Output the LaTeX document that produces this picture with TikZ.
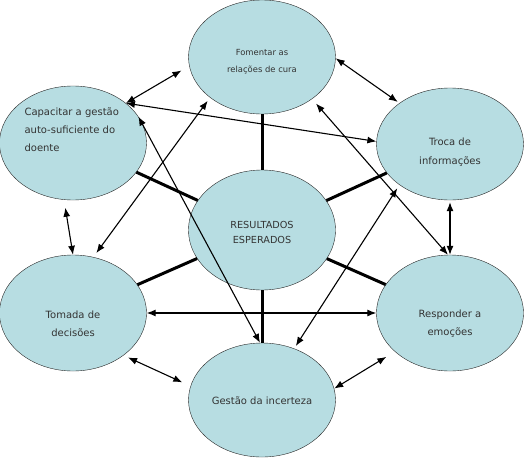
\documentclass[tikz,border=0pt]{standalone}
\usepackage{fontspec}
\setmainfont{DejaVu Sans}
\usetikzlibrary{shapes.geometric}
\usetikzlibrary{arrows.meta}

\definecolor{bubblefill}{RGB}{183,221,226}

\begin{document}
\begin{tikzpicture} [
    x=1pt, y=-1pt,
    bubble/.style = { ellipse, draw=black!85, thin, fill=bubblefill,
                      inner sep=0pt, minimum width=147pt, minimum height=114pt },
    txt/.style    = { text=black!80, align=center,
                      font=\fontsize{10}{18}\selectfont },
    spoke/.style  = { draw, line width=3pt },
    link/.style   = { draw, line width=1.1pt,
                      {Latex[length=9pt,width=7pt]}-{Latex[length=9pt,width=7pt]} },
  ]
  \useasboundingbox (0,0) rectangle (526,460);

  % outer ring and centre
  \node [bubble] (fom) at (262,57)  {};
  \node [bubble] (cap) at (73,143)  {};
  \node [bubble, minimum height=112pt] (tro) at (450,144) {};
  \node [bubble, minimum height=120pt] (res) at (262,230) {};
  \node [bubble, minimum height=116pt] (tom) at (73,313)  {};
  \node [bubble, minimum height=116pt] (rsp) at (450,313) {};
  \node [bubble] (ges) at (262,400) {};

  % texts
  \node [txt, font=\fontsize{8.4}{17}\selectfont] (fomtxt)
        at ([yshift=-5pt]fom.center) {Fomentar as\\relações de cura};
  \node [txt, align=left, anchor=west] (captxt) at (21,130)
        {Capacitar a gestão\\auto-suficiente do\\doente};
  \node [txt, font=\fontsize{10}{19}\selectfont] (trotxt)
        at ([yshift=-8pt]tro.center) {Troca de\\informações};
  \node [txt, font=\fontsize{9.7}{15}\selectfont] (restxt)
        at ([yshift=-2pt]res.center) {RESULTADOS\\ESPERADOS};
  \node [txt] (tomtxt) at ([yshift=-11pt]tom.center) {Tomada de\\decisões};
  \node [txt] (rsptxt) at ([yshift=-11pt]rsp.center) {Responder a\\emoções};
  \node [txt] (gestxt) at ([yshift=-1pt]ges.center) {Gestão da incerteza};

  % thick spokes from the centre
  \begin{scope} [every path/.style=spoke]
    \path (res) -- (fom);
    \path (res) -- (cap);
    \path (res) -- (tro);
    \path (res) -- (tom);
    \path (res) -- (rsp);
    \path (res) -- (ges);
  \end{scope}

  % double arrows between the outer ellipses
  \begin{scope} [every path/.style=link]
    \path [shorten >=9pt]                (cap.37.6) -- (fom.187.6);
    \path [shorten >=2pt]                (fom.-1)   -- (tro.141);
    \path [shorten <=8pt]                (cap.-99)  -- (tom.90);
    \path [shorten <=2pt]                (tro.-90)  -- (rsp.90);
    \path [shorten <=5pt, shorten >=9pt] (tom.-40)  -- (ges.169);
    \path [shorten >=10pt]               (ges.9)    -- (rsp.215);
    \path                                (tom.0)    -- (rsp.180);
    \path                                (cap.37.6) -- (tro.178);
    \path                                (cap.22)   -- (ges.92);
    \path [shorten <=5pt, shorten >=4pt] (tom.70)   -- (fom.218);
    \path [shorten <=6pt]                (fom.-40)  -- (rsp.92);
    \path [shorten <=4pt, shorten >=3pt] (tro.219)  -- (ges.58.6);
  \end{scope}
\end{tikzpicture}
\end{document}
